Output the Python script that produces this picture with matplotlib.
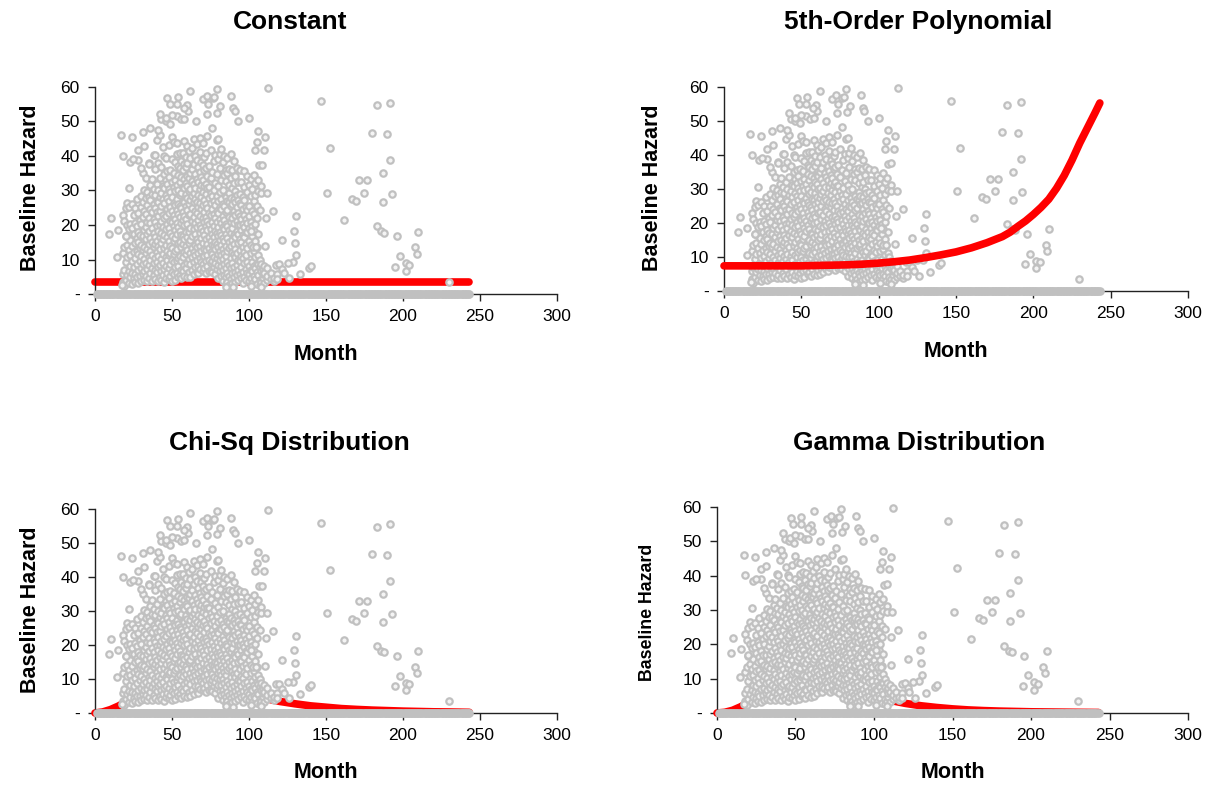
import matplotlib
matplotlib.use("Agg")
import matplotlib.pyplot as plt

plt.rcParams['font.family'] = ['Liberation Sans', 'DejaVu Sans']

# observed baseline hazard: dense cluster, one list of hazards per month
cluster_months = [18, 19, 20, 21, 22, 23, 24, 25, 26, 27, 28, 29, 30, 31, 32, 33, 34, 35,
                  36, 37, 38, 39, 40, 41, 42, 43, 44, 45, 46, 47, 48, 49, 50, 51, 52, 53,
                  54, 55, 56, 57, 58, 59, 60, 61, 62, 63, 64, 65, 66, 67, 68, 69, 70, 71,
                  72, 73, 74, 75, 76, 77, 78, 79, 80, 81, 82, 83, 84, 85, 86, 87, 88, 89,
                  90, 91, 92, 93, 94, 95, 96, 97, 98, 99, 100, 101, 102, 103, 104, 105,
                  106, 107, 108, 109, 110, 112, 114, 116, 118]
cluster_hazards = [
    [3.5, 5.8, 11.9, 23.0],
    [2.4, 7.1, 13.5, 21.2],
    [4.2, 9.3, 16.7, 24.8],
    [5.5, 10.8, 14.2, 20.1, 26.5],
    [3.1, 6.6, 12.7, 18.9, 25.3],
    [4.8, 8.1, 11.2, 15.6, 20.4],
    [2.9, 6.2, 9.7, 13.8, 19.2, 26.2],
    [4.5, 7.9, 12.1, 17.4, 22.8],
    [3.6, 5.9, 10.3, 14.9, 20.7, 24.9],
    [4.9, 8.8, 12.6, 16.3, 19.8, 27.6],
    [3.3, 6.9, 11.5, 15.2, 18.0, 23.4, 38.9],
    [5.1, 9.6, 13.3, 17.0, 21.5],
    [3.8, 7.4, 10.9, 14.1, 20.2, 25.1, 28.4],
    [5.7, 8.6, 12.8, 16.9, 22.3, 26.8, 35.0],
    [4.0, 6.8, 10.1, 13.7, 18.6, 24.2, 30.2],
    [5.2, 9.0, 11.8, 15.8, 19.5, 23.1, 27.9, 33.6],
    [3.7, 7.2, 13.0, 17.3, 21.0, 25.7, 29.6],
    [4.6, 8.3, 10.6, 14.6, 18.2, 22.0, 28.1, 37.9],
    [6.1, 9.8, 12.4, 16.1, 20.6, 24.5, 27.2, 31.6],
    [3.9, 7.6, 11.3, 15.0, 19.0, 23.7, 29.0, 33.2],
    [5.4, 8.9, 13.6, 17.8, 21.8, 26.0, 30.5, 40.4],
    [4.3, 7.0, 10.4, 14.4, 16.6, 20.9, 25.0, 28.7, 36.2],
    [6.4, 9.4, 12.2, 15.5, 19.7, 23.8, 27.1, 32.0, 44.6],
    [3.8, 7.8, 11.0, 13.9, 18.4, 22.5, 26.6, 30.0, 38.0],
    [5.0, 8.5, 12.9, 16.4, 20.0, 24.1, 28.2, 33.5, 46.0],
    [4.1, 6.7, 10.2, 14.8, 17.6, 21.3, 25.5, 29.3, 36.8, 50.6],
    [5.6, 9.1, 11.6, 15.9, 19.3, 23.0, 27.5, 31.2, 42.5],
    [3.5, 7.3, 13.2, 17.1, 21.9, 26.3, 30.8, 34.9, 40.1],
    [4.7, 8.0, 10.7, 14.3, 18.8, 22.7, 28.8, 32.9, 39.5, 50.0],
    [6.0, 9.9, 12.5, 16.6, 20.3, 24.6, 27.8, 31.8, 35.6],
    [4.4, 7.5, 11.4, 15.3, 19.1, 23.5, 26.9, 30.4, 33.8, 43.2],
    [5.3, 8.7, 12.0, 14.0, 17.7, 21.2, 25.2, 29.5, 36.0, 49.4],
    [3.9, 6.5, 10.0, 13.4, 16.8, 20.8, 24.0, 28.0, 32.4, 39.0, 45.6],
    [5.8, 9.2, 11.7, 15.4, 19.6, 22.9, 26.4, 30.9, 35.2, 44.0],
    [4.2, 7.7, 12.6, 16.2, 18.5, 21.6, 25.8, 29.8, 33.0, 38.2],
    [6.2, 9.5, 13.1, 17.5, 20.5, 24.4, 27.4, 31.5, 40.5, 43.7],
    [4.9, 8.2, 10.5, 14.7, 19.4, 23.3, 26.2, 30.1, 34.5, 37.0],
    [5.5, 11.1, 15.1, 18.3, 22.2, 25.4, 28.6, 32.6, 36.5, 41.0],
    [4.5, 7.1, 9.7, 13.5, 17.2, 20.7, 24.8, 29.2, 33.9, 38.6],
    [6.6, 10.8, 14.5, 16.9, 21.4, 23.9, 27.0, 31.1, 35.8, 40.8],
    [5.1, 8.4, 12.3, 15.8, 19.9, 22.6, 26.7, 30.6, 33.3, 37.6, 44.4],
    [7.4, 11.5, 13.8, 18.1, 21.7, 25.6, 28.9, 32.2, 36.9, 39.8],
    [4.8, 9.0, 12.8, 16.5, 20.4, 24.3, 27.7, 31.4, 34.2, 38.0, 43.0],
    [6.3, 10.2, 14.9, 17.9, 22.8, 26.1, 29.9, 33.7, 41.5],
    [5.0, 8.6, 11.8, 15.6, 19.2, 23.2, 27.3, 30.3, 35.0, 39.3],
    [6.9, 10.6, 13.2, 16.7, 21.1, 25.0, 28.4, 32.8, 36.2, 42.4],
    [5.7, 9.3, 12.1, 18.7, 22.4, 26.6, 29.4, 31.9, 37.8, 44.8],
    [7.8, 11.3, 14.2, 17.4, 20.6, 24.2, 27.6, 30.7, 34.7, 40.0],
    [6.4, 9.8, 13.6, 16.0, 19.5, 23.6, 26.8, 33.4, 38.8, 43.6],
    [6.0, 8.0, 11.9, 15.2, 21.5, 25.3, 28.7, 32.5, 36.7],
    [7.2, 10.4, 13.9, 17.6, 20.0, 22.7, 26.3, 30.5, 35.4, 41.2, 45.2],
    [9.4, 12.4, 16.3, 19.0, 24.7, 28.2, 31.7, 34.0, 38.4],
    [6.7, 8.8, 11.0, 14.7, 18.2, 21.9, 25.9, 29.7, 33.1, 37.3, 43.9],
    [7.5, 10.9, 13.0, 17.0, 20.8, 23.8, 27.2, 31.3, 35.9, 39.6],
    [6.1, 9.6, 12.7, 15.9, 19.8, 22.2, 26.0, 29.0, 32.0, 36.4, 40.9],
    [8.2, 11.4, 14.4, 18.6, 21.3, 24.9, 30.8, 34.3, 45.9],
    [6.8, 10.0, 13.4, 16.6, 20.2, 23.4, 27.9, 31.0, 37.1],
    [7.0, 8.9, 12.2, 15.4, 18.9, 22.9, 26.5, 29.3, 33.6, 41.8],
    [6.5, 9.7, 11.6, 14.1, 17.3, 21.0, 24.5, 28.3, 35.5, 48.2],
    [7.9, 10.7, 13.8, 16.4, 19.6, 23.1, 27.0, 30.2, 38.5],
    [5.9, 9.1, 12.9, 15.0, 18.4, 22.1, 25.7, 32.3, 40.3],
    [7.3, 10.3, 14.6, 17.7, 20.9, 24.0, 28.5, 34.8, 44.6],
    [4.5, 8.3, 11.7, 13.5, 16.8, 19.4, 23.6, 26.9, 31.2, 39.0, 45.0],
    [6.6, 9.9, 12.5, 15.7, 18.0, 21.8, 25.1, 29.6, 36.6, 40.5],
    [5.2, 8.1, 11.2, 14.2, 17.2, 20.5, 24.7, 27.4, 33.0, 42.0],
    [3.9, 6.9, 10.1, 13.1, 16.2, 19.3, 22.6, 26.1, 30.0, 38.3],
    [5.6, 8.7, 12.0, 15.3, 18.8, 21.4, 25.4, 34.4, 40.0],
    [2.8, 4.8, 7.6, 11.1, 14.0, 17.5, 20.3, 23.9, 28.0, 32.7, 36.0],
    [3.4, 6.2, 9.3, 12.6, 16.1, 19.7, 24.4, 27.1, 35.1, 39.4],
    [2.6, 5.3, 8.5, 13.3, 15.1, 18.5, 22.3, 26.7, 29.2, 31.7, 36.3],
    [4.3, 7.4, 10.5, 13.9, 17.8, 21.0, 25.5, 27.8, 33.6, 40.6],
    [3.1, 6.0, 9.0, 12.3, 15.6, 19.0, 22.0, 26.0, 30.6, 35.8],
    [4.9, 7.9, 11.5, 14.6, 17.0, 20.7, 24.1, 27.5, 32.2, 38.5],
    [3.6, 6.5, 10.7, 13.0, 16.4, 22.8, 26.6, 29.9, 34.2],
    [5.4, 8.4, 11.9, 18.2, 21.2, 25.2, 28.8, 36.4],
    [4.0, 7.0, 9.8, 14.9, 17.4, 20.1, 23.5, 27.2, 32.5],
    [5.8, 9.5, 12.8, 16.0, 19.9, 22.5, 26.3, 29.1, 36.0],
    [4.6, 7.8, 11.0, 15.2, 18.6, 21.6, 25.9, 32.6],
    [3.3, 6.4, 10.3, 13.7, 17.1, 20.4, 24.6, 28.1],
    [5.0, 8.9, 12.2, 16.5, 19.3, 23.0, 27.3, 30.9, 35.7],
    [4.2, 7.3, 11.4, 14.4, 18.1, 21.8, 25.3],
    [6.1, 9.2, 13.3, 17.9, 20.6, 24.3, 29.5, 34.1],
    [3.7, 5.7, 8.0, 15.5, 19.1, 22.7, 25.6, 31.5],
    [4.7, 7.1, 11.8, 14.1, 21.0, 28.3, 33.3],
    [3.2, 6.8, 9.4, 16.9, 19.8, 24.0, 30.4],
    [5.1, 8.2, 12.4, 18.3, 23.3, 26.9, 34.6],
    [4.4, 7.5, 10.6, 15.4, 20.2, 28.6, 32.2],
    [3.0, 6.3, 9.1, 13.6, 22.1, 25.4],
    [5.6, 8.6, 11.3, 17.3, 29.8],
    [2.7, 4.1, 7.7, 9.9, 24.4],
    [3.5, 6.7, 8.8, 31.3],
    [4.6, 5.9, 7.2],
    [3.2, 6.2, 8.2],
    [4.0, 5.3, 7.4],
    [4.3, 6.0],
    [3.9, 4.6],
    [5.8, 4.4],
]

# scattered observations outside the dense cluster
outlier_month = [8.9, 10.2, 15.1, 16.9, 18.1, 14.6, 19.9, 22.1, 24.1, 22.8, 24.8, 27.8,
                 31.5, 31.0, 36.0, 30.0, 34.9, 38.7, 40.9, 42.2, 46.9, 48.4, 53.8, 53.3,
                 53.1, 46.2, 49.7, 61.8, 59.8, 60.3, 57.8, 55.8, 58.1, 65.8, 70.0, 72.5,
                 73.7, 76.4, 78.9, 77.4, 73.0, 79.4, 81.4, 88.6, 89.8, 90.8, 92.8, 100.0,
                 112.4, 106.0, 110.7, 104.0, 105.0, 109.8, 106.2, 108.2, 105.7, 108.0,
                 111.7, 115.6, 110.9, 110.7, 102.5, 104.7, 101.2, 121.6, 130.8, 129.0,
                 129.7, 130.8, 128.8, 125.1, 133.0, 139.0, 140.0, 117.6, 119.6, 121.6,
                 122.6, 125.8, 146.9, 152.9, 150.9, 161.8, 166.7, 169.7, 171.7, 174.9,
                 176.9, 179.7, 182.9, 191.8, 189.8, 191.8, 186.8, 186.8, 192.8, 182.9,
                 185.9, 187.9, 195.8, 197.8, 194.8, 201.7, 202.0, 204.2, 207.9, 208.9,
                 209.9, 229.8, 84.9, 89.8, 101.0, 108.0, 17.4]
outlier_hazard = [17.4, 21.9, 18.6, 46.1, 40.1, 10.6, 16.8, 30.7, 45.5, 38.4, 39.1, 41.8,
                  42.8, 47.0, 48.0, 36.4, 37.6, 40.2, 47.4, 52.3, 56.9, 55.1, 57.0, 55.1,
                  51.5, 51.0, 51.9, 58.9, 54.8, 52.9, 53.9, 50.7, 50.8, 50.0, 56.6, 57.5,
                  55.0, 56.8, 59.5, 57.1, 52.3, 52.6, 54.5, 57.5, 53.9, 53.0, 50.0, 50.9,
                  59.8, 47.3, 45.5, 41.8, 44.0, 41.8, 37.3, 37.5, 33.1, 29.4,
                  29.4, 24.1, 22.0, 13.9, 13.5, 13.5, 18.4, 15.7, 22.7, 18.4,
                  14.7, 11.2, 9.2, 9.1, 5.7, 7.6, 8.1, 8.4, 8.6, 7.2,
                  6.0, 4.5, 56.0, 42.2, 29.4, 21.5, 27.6, 27.1, 32.9, 29.4,
                  32.9, 46.7, 54.8, 55.5, 46.4, 38.7, 35.0, 26.8, 29.0, 19.6,
                  18.2, 17.8, 16.7, 11.0, 7.9, 6.8, 8.9, 8.5, 13.5, 11.7,
                  18.1, 3.6, 2.1, 1.9, 2.3, 2.1, 2.6]

# months with zero observed hazard
zero_months = list(range(1, 244))

# fitted baseline hazards (red)
const_month = [0, 243]
const_hazard = [3.5, 3.5]

poly_month = [0, 10, 20, 30, 40, 50, 60, 70, 80, 90, 100, 110, 120, 130, 140, 150, 160,
              170, 180, 185, 190, 195, 200, 205, 210, 215, 220, 225, 230, 235, 240, 243]
poly_hazard = [7.4, 7.4, 7.4, 7.4, 7.4, 7.4, 7.5, 7.6, 7.7, 7.9, 8.2, 8.6, 9.1, 9.8, 10.6,
               11.5, 12.7, 14.2, 16.0, 17.3, 19.0, 20.6, 22.5, 24.6, 27.0, 30.2, 34.0,
               38.5, 43.5, 48.0, 52.5, 55.3]

dist_month = [0, 5, 10, 15, 20, 30, 40, 50, 60, 70, 80, 90, 100, 110, 120, 130, 140, 150,
              160, 170, 180, 190, 200, 210, 220, 230, 243]
chisq_hazard = [0.0, 0.3, 1.0, 2.0, 3.2, 5.2, 7.0, 8.2, 8.7, 8.6, 7.8, 6.6, 5.4, 4.3, 3.4,
                2.7, 2.1, 1.7, 1.3, 1.05, 0.85, 0.7, 0.55, 0.45, 0.35, 0.3, 0.2]
gamma_hazard = [0.0, 0.2, 0.8, 1.8, 3.0, 5.5, 7.6, 9.0, 9.5, 9.0, 7.8, 6.3, 4.9, 3.7, 2.8,
                2.1, 1.6, 1.2, 0.9, 0.7, 0.55, 0.45, 0.35, 0.3, 0.25, 0.2, 0.15]

titles = ["Constant", "5th-Order Polynomial", "Chi-Sq Distribution", "Gamma Distribution"]
fits = [(const_month, const_hazard), (poly_month, poly_hazard),
        (dist_month, chisq_hazard), (dist_month, gamma_hazard)]

obs_x, obs_y = [], []
for m, hs in zip(cluster_months, cluster_hazards):
    for h in hs:
        obs_x.append(m)
        obs_y.append(h)
obs_x += outlier_month
obs_y += outlier_hazard

W, H = 1223, 790
fig = plt.figure(figsize=(W / 100, H / 100), dpi=100)

# axes boxes in pixels: (x of 0, x of 300, y of 60, y of 0)
boxes = [(95, 557, 87, 294), (724, 1188, 87, 291), (95, 557, 509, 713), (717, 1188, 507, 713)]
title_pos = [(290, 22), (918, 22), (289, 443), (919, 443)]
ylabel_pos = [(30, 188), (652, 188), (30, 610), (648, 612)]
month_y = [355, 352, 773, 773]

gray = '#c0c0c0'
for i in range(4):
    x0, x1, yt, yb = boxes[i]
    ax = fig.add_axes([x0 / W, 1 - yb / H, (x1 - x0) / W, (yb - yt) / H])
    fx, fy = fits[i]
    red_z = 4 if i == 1 else 2
    ax.plot(fx, fy, color='red', lw=5.5, solid_capstyle='round', zorder=red_z, clip_on=False)
    ax.plot(obs_x, obs_y, 'o', ms=4.6, mew=1.6, mfc='#f4f4f4', mec=gray, zorder=3,
            clip_on=False)
    ax.plot(zero_months, [0] * len(zero_months), 'o', ms=4.6, mew=1.6, mfc=gray,
            mec=gray, zorder=3, clip_on=False)
    ax.set_xlim(0, 300)
    ax.set_ylim(0, 60)
    ax.set_xticks(range(0, 301, 50))
    ax.set_yticks(range(0, 61, 10))
    ax.set_yticklabels(['-', '10', '20', '30', '40', '50', '60'])
    ax.spines['top'].set_visible(False)
    ax.spines['right'].set_visible(False)
    for s in ['left', 'bottom']:
        ax.spines[s].set_linewidth(1)
        ax.spines[s].set_color('#222222')
    ax.tick_params(axis='both', direction='out', length=5, width=1, labelsize=12.5,
                   color='#222222', pad=6)
    ax.patch.set_alpha(0)

    tx, ty = title_pos[i]
    fig.text(tx / W, 1 - ty / H, titles[i], ha='center', va='center', fontsize=19,
             fontweight='bold')
    fig.text((x0 + x1) / 2 / W, 1 - month_y[i] / H, 'Month', ha='center', va='center',
             fontsize=15.5, fontweight='bold')
    lx, ly = ylabel_pos[i]
    fig.text(lx / W, 1 - ly / H, 'Baseline Hazard', ha='center', va='center',
             rotation=90, fontsize=15.5 if i < 3 else 12.8, fontweight='bold')

fig.savefig('out.png', dpi=100)
